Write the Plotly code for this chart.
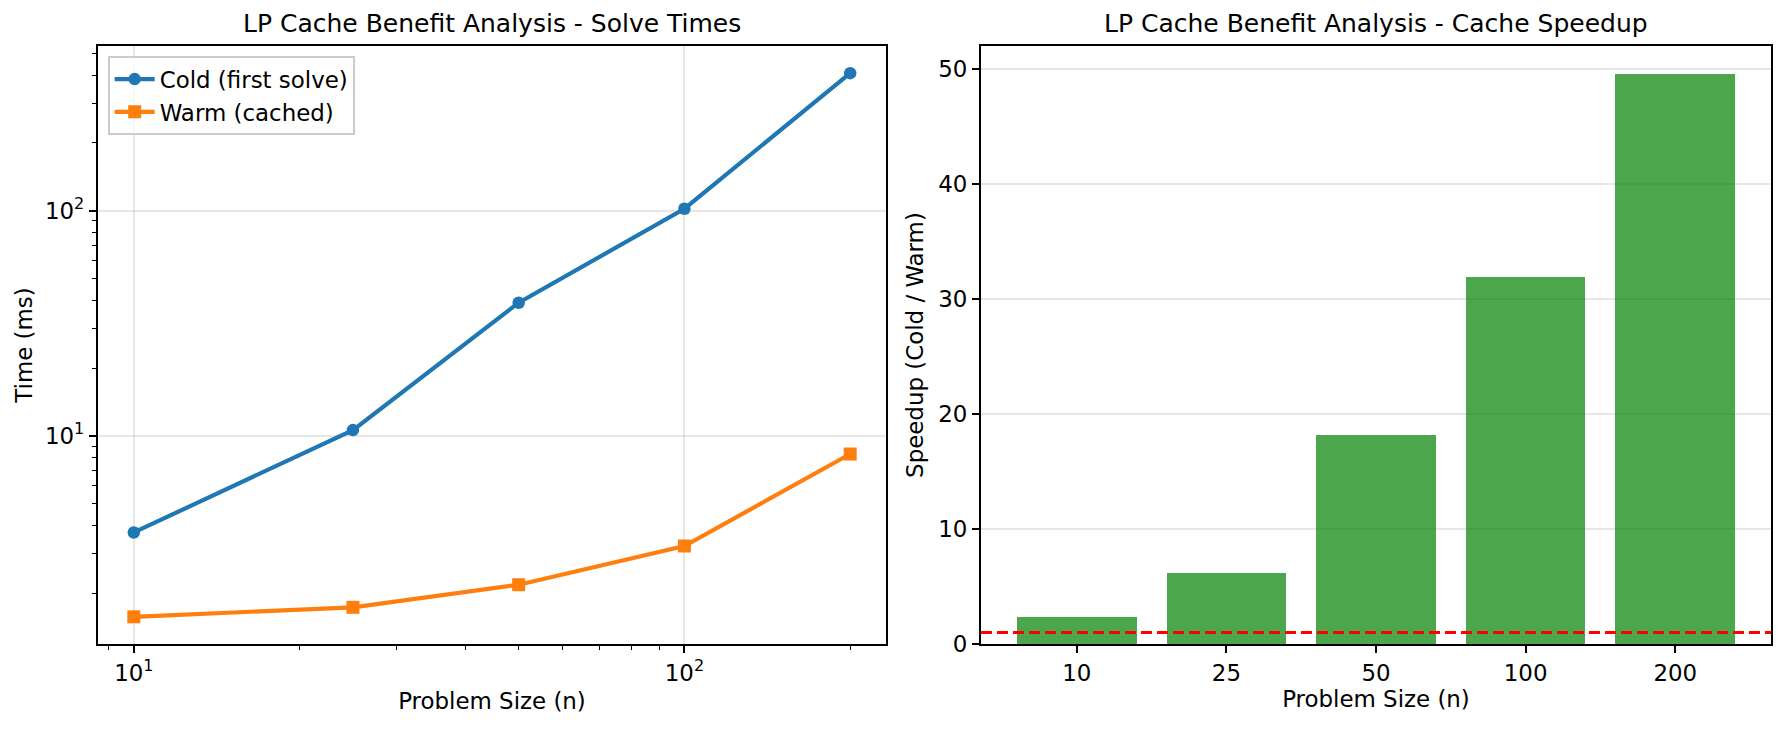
import numpy as np
import plotly.graph_objects as go

# ---- data ----
problem_sizes = [10, 25, 50, 100, 200]
cold_ms = [3.72, 10.6, 39.0, 102.0, 408.0]
warm_ms = [1.57, 1.73, 2.18, 3.24, 8.3]
speedup = [2.35, 6.15, 18.15, 31.9, 49.5]
size_labels = ["10", "25", "50", "100", "200"]
baseline_speedup = 1.0

W, H = 1784, 730
FONT = "DejaVu Sans"
PX = 150 / 72.0  # points -> pixels
BASE = 11 * PX

ML, MR, MT, MB = 98, W - 1771, 46, H - 644
PW = W - ML - MR

def xd(px):
    return (px - ML) / PW

def yd(px):
    return 1 - (px - MT) / (H - MT - MB)

left_dom = [0, xd(886)]
right_dom = [xd(981), 1]

def log_range(vals, m=0.05):
    lo, hi = np.log10(min(vals)), np.log10(max(vals))
    pad = (hi - lo) * m
    return [lo - pad, hi + pad]

fig = go.Figure()

fig.add_trace(go.Scatter(
    x=problem_sizes, y=cold_ms, mode="lines+markers", name="Cold (first solve)",
    line=dict(color="#1f77b4", width=2 * PX),
    marker=dict(symbol="circle", size=6 * PX, color="#1f77b4"),
    xaxis="x", yaxis="y"))
fig.add_trace(go.Scatter(
    x=problem_sizes, y=warm_ms, mode="lines+markers", name="Warm (cached)",
    line=dict(color="#ff7f0e", width=2 * PX),
    marker=dict(symbol="square", size=13, color="#ff7f0e"),
    xaxis="x", yaxis="y"))

fig.add_trace(go.Bar(
    x=size_labels, y=speedup, width=0.8, marker=dict(color="rgba(0,128,0,0.7)", line=dict(width=0)),
    showlegend=False, xaxis="x2", yaxis="y2"))

n = len(size_labels)
blo, bhi = -0.4, n - 1 + 0.4
bpad = 0.05 * (bhi - blo)

tickfont = dict(family=FONT, size=BASE, color="black")
labfont = dict(family=FONT, size=BASE, color="black")
grid = "rgba(176,176,176,0.3)"
common = dict(showline=True, linecolor="black", linewidth=0.8 * PX, mirror=True,
              ticks="outside", ticklen=3.5 * PX, tickwidth=0.8 * PX, tickcolor="black",
              tickfont=tickfont, zeroline=False, gridcolor=grid, gridwidth=0.8 * PX,
              automargin=False)
minor = dict(ticks="outside", ticklen=2 * PX, tickwidth=0.6 * PX, tickcolor="black",
             dtick="D1", showgrid=False)

fig.update_layout(
    width=W, height=H, margin=dict(l=ML, r=MR, t=MT, b=MB, autoexpand=False),
    plot_bgcolor="white", paper_bgcolor="white",
    font=dict(family=FONT, color="black"),
    xaxis=dict(domain=left_dom, type="log", range=log_range(problem_sizes),
               tickvals=[10, 100], ticktext=["10<sup>1</sup>", "10<sup>2</sup>"],
               showgrid=True, minor=minor,
               title=dict(text="Problem Size (n)", font=labfont, standoff=8), **common),
    yaxis=dict(domain=[0, 1], type="log", range=log_range(cold_ms + warm_ms),
               tickvals=[10, 100], ticktext=["10<sup>1</sup>", "10<sup>2</sup>"],
               showgrid=True, minor=minor, anchor="x",
               title=dict(text="Time (ms)", font=labfont, standoff=6), **common),
    xaxis2=dict(domain=right_dom, anchor="y2", type="category",
                range=[blo - bpad, bhi + bpad], showgrid=False,
                title=dict(text="Problem Size (n)", font=labfont, standoff=6), **common),
    yaxis2=dict(domain=[0, 1], anchor="x2", range=[0, max(speedup) * 1.05],
                dtick=10, showgrid=True,
                title=dict(text="Speedup (Cold / Warm)", font=labfont, standoff=8), **common),
    legend=dict(x=xd(108), y=yd(56), xanchor="left", yanchor="top",
                bgcolor="rgba(255,255,255,0.8)", bordercolor="#cccccc", borderwidth=0.8 * PX,
                font=dict(family=FONT, size=BASE, color="black"),
                tracegroupgap=0, itemwidth=40),
    showlegend=True,
    bargap=0,
)

fig.add_shape(type="line", xref="x2 domain", yref="y2", x0=0, x1=1,
              y0=baseline_speedup, y1=baseline_speedup,
              line=dict(color="red", width=1.5 * PX, dash="11px,5px"))

for dom, txt in [(left_dom, "LP Cache Benefit Analysis - Solve Times"),
                 (right_dom, "LP Cache Benefit Analysis - Cache Speedup")]:
    fig.add_annotation(x=(dom[0] + dom[1]) / 2, y=1, xref="paper", yref="paper",
                       text=txt, showarrow=False, xanchor="center", yanchor="bottom",
                       yshift=6, font=dict(family=FONT, size=12 * PX, color="black"))

fig.write_html("out.html", config={"displayModeBar": False},
               post_script="document.body.style.margin='0px';document.body.style.overflow='hidden';")
